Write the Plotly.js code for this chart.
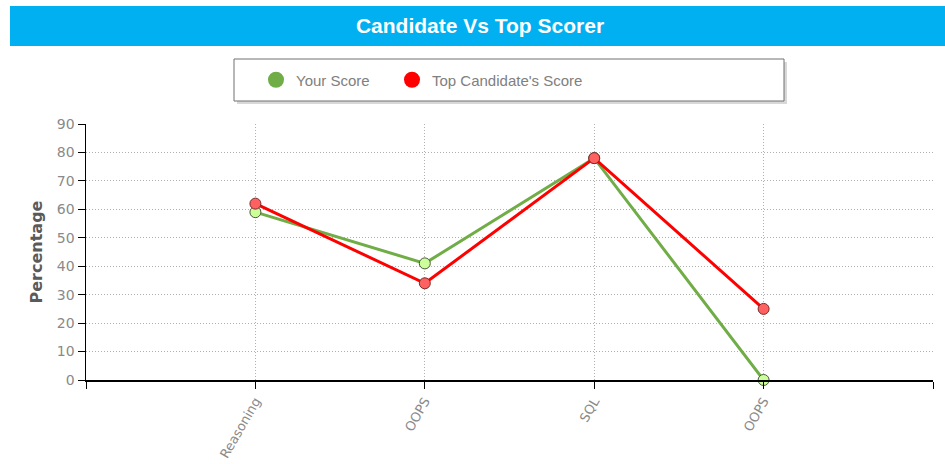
<!DOCTYPE html>
<html>
<head>
<meta charset="utf-8">
<script src="https://cdn.plot.ly/plotly-3.0.1.min.js"></script>
<style>html,body{margin:0;padding:0;background:#fff;}#chart{width:945px;height:464px;}</style>
</head>
<body>
<div id="chart"></div>
<script>
const categories = ['Reasoning', 'OOPS', 'SQL', 'OOPS'];
const yourScore = [59, 41, 78, 0];
const topScore = [62, 34, 78, 25];
const seriesNames = ['Your Score', "Top Candidate's Score"];
const yTicks = [0, 10, 20, 30, 40, 50, 60, 70, 80, 90];

const xPos = categories.map((c, i) => i + 1);
const tickVals = [0].concat(xPos, [categories.length + 1]);
const tickText = [''].concat(categories, ['']);

// layout geometry (pixels)
const W = 945, H = 464;
const M = {l: 86, r: 12, t: 124, b: 84};
const pw = W - M.l - M.r, ph = H - M.t - M.b;
const px = x => (x - M.l) / pw;
const py = y => 1 + (M.t - y) / ph;

const traces = [
  {x: xPos, y: yourScore, type: 'scatter', mode: 'lines+markers', name: seriesNames[0], showlegend: false,
   line: {color: '#70AD47', width: 3}, marker: {size: 11, color: '#ccff99', line: {color: '#4a5a3a', width: 1}}, cliponaxis: false},
  {x: xPos, y: topScore, type: 'scatter', mode: 'lines+markers', name: seriesNames[1], showlegend: false,
   line: {color: '#FF0000', width: 3}, marker: {size: 11, color: '#ff6060', line: {color: '#7a2a2a', width: 1}}, cliponaxis: false},
  {x: [null], y: [null], type: 'scatter', mode: 'markers', name: seriesNames[0], showlegend: true, legend: 'legend',
   marker: {size: 20, color: '#70AD47'}},
  {x: [null], y: [null], type: 'scatter', mode: 'markers', name: seriesNames[1], showlegend: true, legend: 'legend2',
   marker: {size: 20, color: '#FF0000'}}
];

const legendFont = {family: 'Liberation Sans, Arial', size: 15, color: '#808080'};
const layout = {
  width: W, height: H,
  margin: M,
  paper_bgcolor: '#fff', plot_bgcolor: '#fff',
  showlegend: true,
  title: {text: '<b>Candidate Vs Top Scorer</b>', font: {family: 'Liberation Sans, Arial', size: 21, color: '#fff'},
          x: 480 / W, xanchor: 'center', y: 1 - 26 / H, yanchor: 'middle'},
  legend: {orientation: 'h', x: px(256), xanchor: 'left', y: py(80), yanchor: 'middle',
           bgcolor: 'rgba(0,0,0,0)', borderwidth: 0, itemsizing: 'trace', font: legendFont},
  legend2: {orientation: 'h', x: px(392), xanchor: 'left', y: py(80), yanchor: 'middle',
           bgcolor: 'rgba(0,0,0,0)', borderwidth: 0, itemsizing: 'trace', font: legendFont},
  xaxis: {range: [0, categories.length + 1], tickvals: tickVals, ticktext: tickText, tickangle: -60,
          showgrid: true, gridcolor: '#b0b0b0', griddash: '1px,2px', gridwidth: 1,
          showline: true, linecolor: '#000', linewidth: 1.5, ticks: 'outside', ticklen: 7, tickcolor: '#000',
          zeroline: false, fixedrange: true,
          tickfont: {family: 'DejaVu Sans, Verdana', size: 13, color: '#8a8a8a'}},
  yaxis: {range: [0, 90], tickvals: yTicks, showgrid: true, gridcolor: '#b0b0b0', griddash: '1px,2px', gridwidth: 1,
          showline: true, linecolor: '#000', linewidth: 1.5, ticks: 'outside', ticklen: 7, tickcolor: '#000',
          zeroline: false, fixedrange: true,
          tickfont: {family: 'DejaVu Sans, Verdana', size: 14, color: '#8a8a8a'},
          title: {text: '<b>Percentage</b>', font: {family: 'DejaVu Sans, Verdana', size: 16, color: '#5a5a5a'}, standoff: 10}},
  shapes: [
    {type: 'rect', xref: 'paper', yref: 'paper', x0: px(10), x1: px(945), y0: py(46), y1: py(6),
     fillcolor: '#00B0F0', line: {width: 0}, layer: 'below'},
    {type: 'rect', xref: 'paper', yref: 'paper', x0: px(237), x1: px(787), y0: py(104), y1: py(62),
     fillcolor: '#d8d8d8', line: {width: 0}, layer: 'below'},
    {type: 'rect', xref: 'paper', yref: 'paper', x0: px(234), x1: px(784), y0: py(101), y1: py(59),
     fillcolor: '#fff', line: {width: 1, color: '#707070'}, layer: 'below'}
  ]
};

Plotly.newPlot('chart', traces, layout, {displayModeBar: false, staticPlot: true});
</script>
</body>
</html>
